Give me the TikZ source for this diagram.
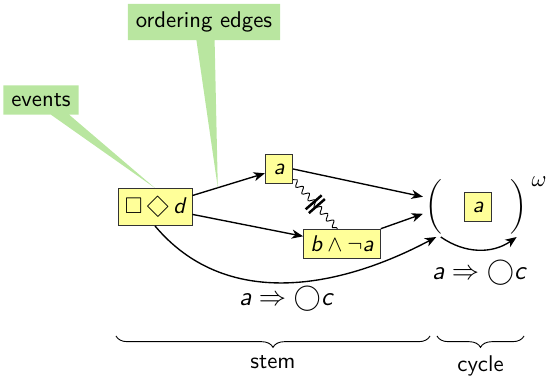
\documentclass[tikz,border=0pt]{standalone}
\usepackage{amsmath}
\usepackage{amssymb}
\usepackage{graphicx}
\usepackage{xcolor}
\usepackage{tikz}
\usetikzlibrary{positioning,shapes.callouts,arrows.meta,decorations.pathmorphing,decorations.pathreplacing}
\definecolor{evyellow}{RGB}{255, 255, 153}
\definecolor{notegreen}{RGB}{185, 230, 160}
\newcommand{\sv}[1]{\text{\sffamily\itshape #1}}
\newcommand{\bigdia}{\mathord{\raisebox{-0.5pt}{\rotatebox[origin=c]{45}{$\Box$}}}}

\begin{document}
\begin{tikzpicture}[
    x=0.44pt, y=-0.44pt,
    font=\sffamily,
    event/.style={rectangle, draw=black!80, fill=evyellow, thin, inner sep=3pt, minimum width=12pt, minimum height=13pt},
    paren/.style={inner sep=1pt},
    note/.style={rectangle callout, fill=notegreen, inner sep=3.5pt, callout pointer width=8pt},
    arrow/.style={-{Stealth[length=5pt,width=4pt,inset=1.5pt]}, semithick},
    conflict/.style={decorate, decoration={snake, segment length=4pt, amplitude=1.3pt}},
    brc/.style={decorate, decoration={brace, mirror, amplitude=5pt}, thin},
    lbl/.style={font=\fontsize{11.5pt}{13pt}\selectfont}
]
\useasboundingbox (0,0) rectangle (550,376);
% Events of the stem
\node[event]  at (155,207) (evd)   {$\Box\,\bigdia\, \sv{d}$};
\node[event]  at (279,169) (eva)   {$\sv{a}$};
\node[event]  at (342,244) (evb)   {$\sv{b} \wedge \neg \sv{a}$};
% Cycle
\node[paren]  at (434,207) (lpar)  {$\bigg($};
\node[event]  at (478,207) (evc)   {$\sv{a}$};
\node[paren]  at (519,207) (rpar)  {$\bigg)$};
\node[paren]  at (539,182) (omg)   {$\omega$};

\draw[arrow] (evd) -- coordinate[pos=0.35] (oe) (eva);
\draw[arrow] (evd) -- (evb);
\draw[arrow] (eva.east) -- ([yshift=4.5pt]lpar.west);
\draw[arrow] (evb.north east) -- ([yshift=-3pt]lpar.west);
\draw[arrow] (evd.south) to[out=-50, in=208]
    node[lbl, pos=0.5, below=-2pt] {$\sv{a} \Rightarrow \bigcirc \sv{c}$} ([xshift=1pt]lpar.south);
\draw[arrow] ([xshift=3pt]lpar.south) to[bend right=35]
    node[lbl, below=1pt] {$\sv{a} \Rightarrow \bigcirc \sv{c}$} ([xshift=-1pt]rpar.south);
% Conflict between a and b
\draw[conflict] ([yshift=2pt]eva.south east) -- coordinate (cut) ([xshift=-2pt]evb.north);
\draw[line width=1.1pt] (cut) ++(-9.6,5.1) -- ++(16,-14);
\draw[line width=1.1pt] (cut) ++(-6.4,8.9) -- ++(16,-14);
% Callouts
\node[note, callout absolute pointer={(evd.north)}] at (41,100) (evnote) {events};
\node[note, callout absolute pointer={(oe)}] at (204,22) (ordnote) {ordering edges};
% Braces
\draw[brc] (116,336) -- node[below=5pt] (stem) {stem} (430,336);
\draw[brc] (437,336) -- node[below=5pt] (cyc) {cycle} (524,336);
\end{tikzpicture}
\end{document}
